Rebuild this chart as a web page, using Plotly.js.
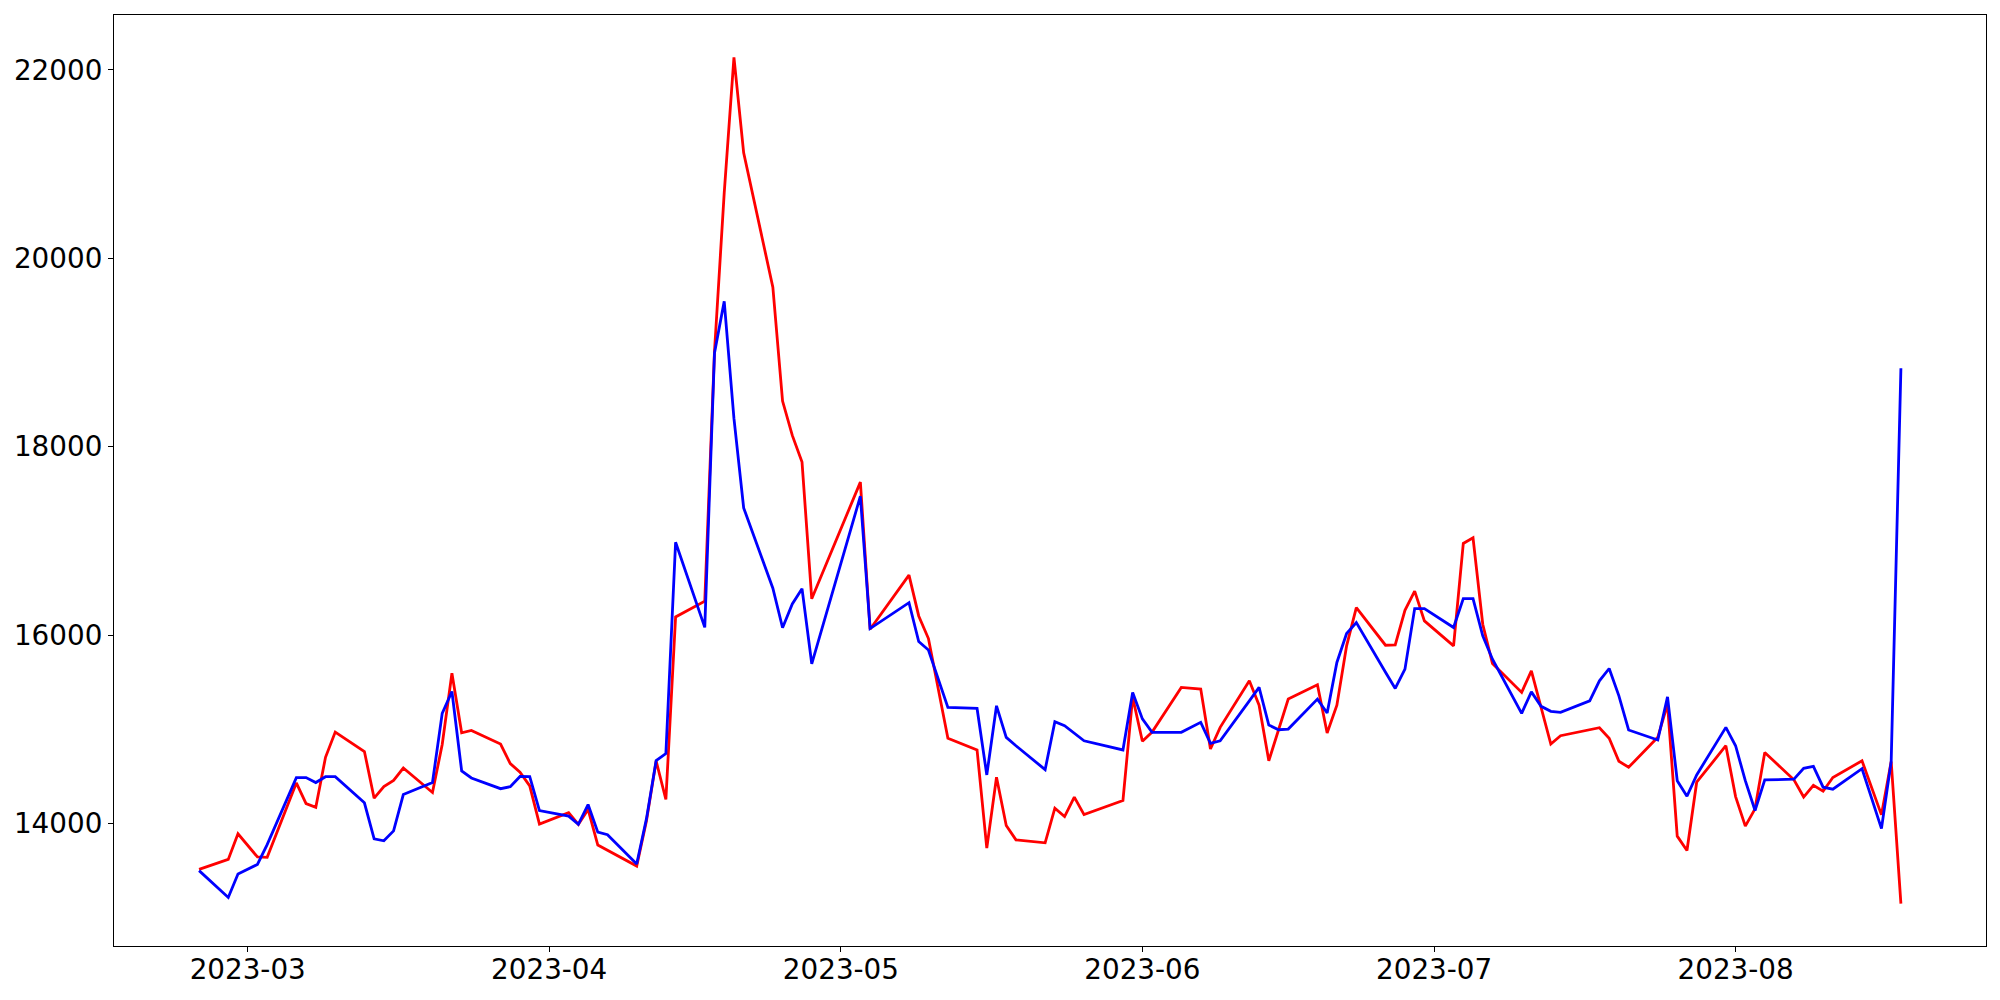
<!DOCTYPE html>
<html>
<head>
<meta charset="utf-8">
<script src="https://cdn.plot.ly/plotly-3.0.1.min.js"></script>
<style>html,body{margin:0;padding:0;background:#fff;}#chart{width:2000px;height:1000px;}</style>
</head>
<body>
<div id="chart"></div>
<script>
const dates = [
  "2023-02-24","2023-02-27","2023-02-28","2023-03-02","2023-03-03",
  "2023-03-06","2023-03-07","2023-03-08","2023-03-09","2023-03-10",
  "2023-03-13","2023-03-14","2023-03-15","2023-03-16","2023-03-17",
  "2023-03-20","2023-03-21","2023-03-22","2023-03-23","2023-03-24",
  "2023-03-27","2023-03-28","2023-03-29","2023-03-30","2023-03-31",
  "2023-04-03","2023-04-04","2023-04-05","2023-04-06","2023-04-07",
  "2023-04-10","2023-04-11","2023-04-12","2023-04-13","2023-04-14",
  "2023-04-17","2023-04-18","2023-04-19","2023-04-20","2023-04-21",
  "2023-04-24","2023-04-25","2023-04-26","2023-04-27","2023-04-28",
  "2023-05-03","2023-05-04","2023-05-08","2023-05-09","2023-05-10",
  "2023-05-12","2023-05-15","2023-05-16","2023-05-17","2023-05-18",
  "2023-05-19","2023-05-22","2023-05-23","2023-05-24","2023-05-25",
  "2023-05-26","2023-05-30","2023-05-31","2023-06-01","2023-06-02",
  "2023-06-05","2023-06-06","2023-06-07","2023-06-08","2023-06-09",
  "2023-06-12","2023-06-13","2023-06-14","2023-06-15","2023-06-16",
  "2023-06-19","2023-06-20","2023-06-21","2023-06-22","2023-06-23",
  "2023-06-26","2023-06-27","2023-06-28","2023-06-29","2023-06-30",
  "2023-07-03","2023-07-04","2023-07-05","2023-07-06","2023-07-07",
  "2023-07-10","2023-07-11","2023-07-12","2023-07-13","2023-07-14",
  "2023-07-17","2023-07-18","2023-07-19","2023-07-20","2023-07-21",
  "2023-07-24","2023-07-25","2023-07-26","2023-07-27","2023-07-28",
  "2023-07-31","2023-08-01","2023-08-02","2023-08-03","2023-08-04",
  "2023-08-07","2023-08-08","2023-08-09","2023-08-10","2023-08-11",
  "2023-08-14","2023-08-15","2023-08-16","2023-08-17","2023-08-18"
];

const redValues = [
  13513,13618,13890,13644,13640,
  14430,14211,14171,14702,14970,
  14764,14268,14391,14457,14588,
  14329,14839,15594,14962,14988,
  14843,14635,14545,14399,13994,
  14114,13990,14149,13771,13714,
  13548,14026,14663,14254,16192,
  16360,19012,20695,22134,21120,
  19693,18485,18120,17836,16385,
  17624,16062,16637,16203,15963,
  14904,14780,13738,14491,13978,
  13826,13794,14162,14073,14279,
  14094,14243,15340,14872,14970,
  15444,15437,15426,14790,15020,
  15514,15256,14666,14995,15320,
  15472,14960,15256,15885,16291,
  15892,15895,16263,16467,16150,
  15885,16973,17033,16115,15698,
  15391,15620,15232,14843,14931,
  14995,15016,14904,14660,14596,
  14914,15267,13865,13713,14438,
  14825,14285,13972,14155,14754,
  14463,14280,14405,14342,14488,
  14665,14378,14091,14657,13148
];

const blueValues = [
  13499,13214,13464,13565,13775,
  14487,14487,14434,14496,14496,
  14219,13837,13816,13921,14307,
  14434,15169,15401,14557,14483,
  14369,14390,14498,14496,14136,
  14078,13990,14201,13908,13881,
  13569,14048,14667,14742,16986,
  16082,18995,19543,18300,17350,
  16497,16078,16330,16493,15695,
  17474,16069,16344,15931,15842,
  15232,15221,14515,15249,14914,
  14825,14571,15080,15037,14960,
  14878,14780,15391,15110,14967,
  14967,15020,15073,14851,14878,
  15302,15444,15045,14995,15002,
  15320,15172,15709,16016,16133,
  15606,15433,15638,16281,16281,
  16080,16387,16387,15991,15744,
  15169,15397,15243,15190,15179,
  15302,15514,15645,15355,14992,
  14886,15344,14454,14289,14515,
  15020,14825,14454,14137,14462,
  14470,14585,14606,14385,14363,
  14581,14263,13945,14657,18833
];

const xTickVals = ["2023-03-01","2023-04-01","2023-05-01","2023-06-01","2023-07-01","2023-08-01"];
const xTickText = ["2023-03","2023-04","2023-05","2023-06","2023-07","2023-08"];
const yTickVals = [14000,16000,18000,20000,22000];

// matplotlib-like 5% margins
const tms = dates.map(d => new Date(d + "T00:00:00Z").getTime());
const tMin = Math.min(...tms), tMax = Math.max(...tms);
const tPad = (tMax - tMin) * 0.05;
function fmt(t){ return new Date(t).toISOString().replace("T"," ").slice(0,19); }
const allY = redValues.concat(blueValues);
const yMin = Math.min(...allY), yMax = Math.max(...allY);
const yPad = (yMax - yMin) * 0.05;

const font = {family: "DejaVu Sans", size: 27.8, color: "#000"};

const traces = [
  {x: dates, y: redValues, type: "scatter", mode: "lines", line: {color: "red", width: 2.8}, hoverinfo: "skip"},
  {x: dates, y: blueValues, type: "scatter", mode: "lines", line: {color: "blue", width: 2.8}, hoverinfo: "skip"}
];

const layout = {
  width: 2000, height: 1000,
  margin: {l: 113.5, r: 14, t: 15.3, b: 53.5, pad: 0},
  paper_bgcolor: "#fff", plot_bgcolor: "#fff",
  showlegend: false,
  font: font,
  xaxis: {
    type: "date",
    range: [fmt(tMin - tPad), fmt(tMax + tPad)],
    tickmode: "array", tickvals: xTickVals, ticktext: xTickText,
    ticks: "outside", ticklen: 5, tickwidth: 1.1, tickcolor: "#000",
    ticklabelstandoff: -6,
    showline: true, mirror: true, linecolor: "#000", linewidth: 1.1,
    showgrid: false, zeroline: false,
    tickfont: font
  },
  yaxis: {
    range: [yMin - yPad, yMax + yPad],
    tickmode: "array", tickvals: yTickVals, ticktext: yTickVals.map(String),
    ticks: "outside", ticklen: 5, tickwidth: 1.1, tickcolor: "#000",
    showline: true, mirror: true, linecolor: "#000", linewidth: 1.1,
    showgrid: false, zeroline: false,
    tickfont: font
  }
};

Plotly.newPlot("chart", traces, layout, {staticPlot: true, displayModeBar: false});
</script>
</body>
</html>
